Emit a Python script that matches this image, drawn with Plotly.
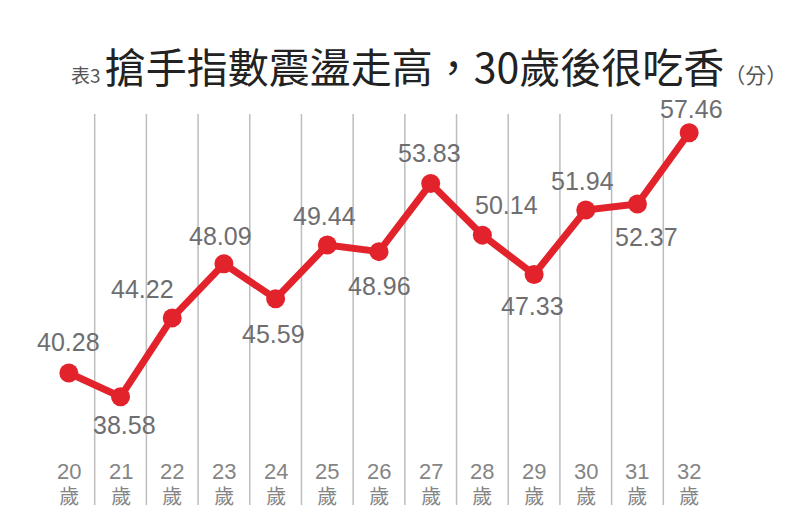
import plotly.graph_objects as go

ages = ["20", "21", "22", "23", "24", "25", "26", "27", "28", "29", "30", "31", "32"]
scores = [40.28, 38.58, 44.22, 48.09, 45.59, 49.44, 48.96, 53.83, 50.14, 47.33, 51.94, 52.37, 57.46]
age_unit = "歲"
title_prefix = "表3"
title_main = "搶手指數震盪走高，30歲後很吃香"
title_unit = "（分）"

# label offsets (px) for each value label: (dx, dy up-positive)
label_offsets = [(0, 31), (4, -28), (-30, 29), (-3, 28), (-2, -35), (-3, 29), (0, -34),
                 (-1, 31), (24, 30), (-2, -32), (-3, 29), (9, -33), (2, 24)]

RED = "#e3232b"
W, H = 792, 530
ML, MR, MT, MB = 43, 77, 110, 20
PW, PH = W - ML - MR, H - MT - MB

def px(x):
    return (x - ML) / PW

def py(y):
    return (H - MB - y) / PH

xs = list(range(len(ages)))

fig = go.Figure()
fig.add_trace(go.Scatter(
    x=xs, y=scores, mode="lines+markers",
    line=dict(color=RED, width=7),
    marker=dict(color=RED, size=19),
    hoverinfo="skip",
))

shapes = []
for i in range(len(ages) - 1):
    shapes.append(dict(type="line", xref="x", yref="paper",
                       x0=i + 0.5, x1=i + 0.5, y0=py(505), y1=py(114),
                       line=dict(color="#bdbdbd", width=1.5), layer="below"))

annotations = []
for i, (v, (dx, dy)) in enumerate(zip(scores, label_offsets)):
    annotations.append(dict(x=i, y=v, xref="x", yref="y", text=f"{v:.2f}",
                            showarrow=False, xshift=dx, yshift=dy,
                            font=dict(family="Liberation Sans, Arial", size=25, color="#6e6e70")))
for i, a in enumerate(ages):
    txt = (f"<span style='font-size:22px'>{a}</span><br>"
           f"<span style='font-size:20px'>{age_unit}</span>")
    annotations.append(dict(x=i, y=py(483), xref="x", yref="paper", text=txt,
                            showarrow=False, yanchor="middle",
                            font=dict(family="Liberation Sans, Noto Sans CJK TC", size=19.2, color="#858585")))

title_text = (f"<span style='font-size:19px;fill:#555555'>{title_prefix} </span>"
              f"{title_main}"
              f"<span style='font-size:21px;fill:#555555'>{title_unit}</span>")
annotations.append(dict(x=px(69), y=py(65), xref="paper", yref="paper", text=title_text,
                        showarrow=False, xanchor="left", yanchor="middle",
                        font=dict(family="Noto Sans CJK TC", size=41, color="#222222", weight=400)))

fig.update_layout(
    width=W, height=H,
    margin=dict(l=ML, r=MR, t=MT, b=MB, pad=0),
    paper_bgcolor="white", plot_bgcolor="white",
    showlegend=False,
    xaxis=dict(range=[-0.5, len(ages) - 0.5], visible=False, fixedrange=True),
    yaxis=dict(range=[30.48, 59.09], visible=False, fixedrange=True),
    shapes=shapes, annotations=annotations,
)

fig.write_html("out.html", config={"displayModeBar": False})
